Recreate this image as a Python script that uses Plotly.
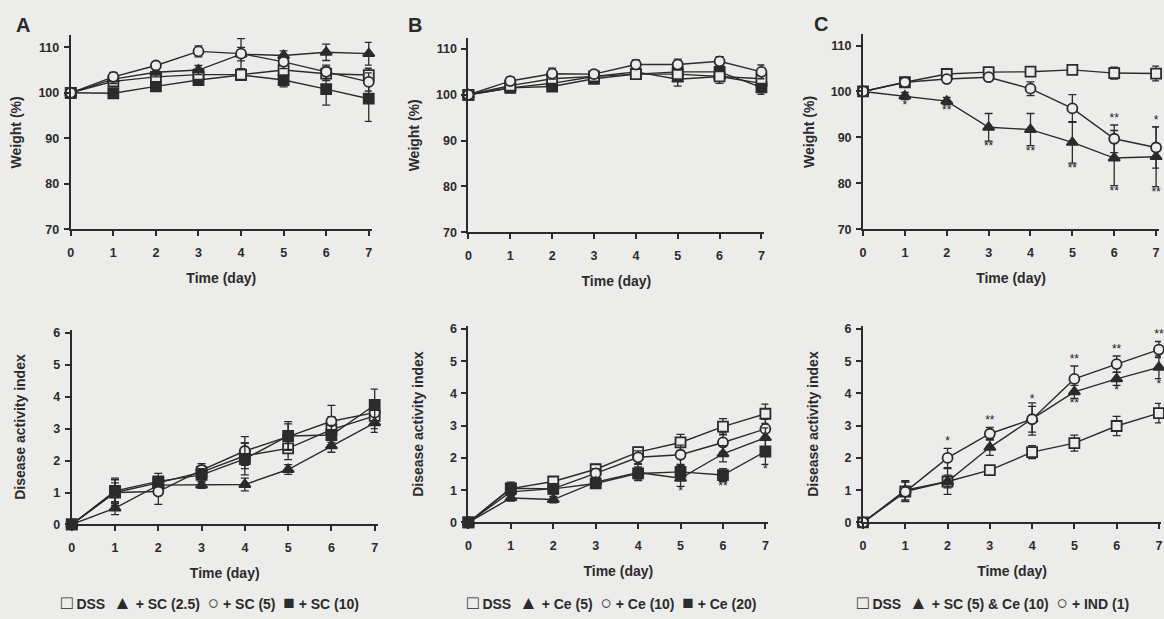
import plotly.graph_objects as go

# ---------------- data ----------------
days = [0, 1, 2, 3, 4, 5, 6, 7]
day_ticks = [0, 1, 2, 3, 4, 5, 6, 7]
weight_ticks = [70, 80, 90, 100, 110]
dai_ticks = [0, 1, 2, 3, 4, 5, 6]

# Panel A - weight
a_w_dss = [100, 102.5, 103.5, 104, 104, 105, 104.2, 103.9]
a_w_dss_err = [0, 1, 1, 1, 1, 1.2, 1.5, 1.5]
a_w_sc25 = [100, 103, 104.5, 105, 108.5, 108.2, 108.9, 108.6]
a_w_sc25_err = [0, 1, 1, 1, 1.5, 1, 1.8, 2.5]
a_w_sc5 = [100, 103.5, 106, 109.1, 108.6, 106.8, 104.6, 102.4]
a_w_sc5_err = [0, 1, 0.8, 1.2, 3.3, 1.5, 1.5, 2]
a_w_sc10 = [100, 99.9, 101.4, 102.8, 103.9, 102.8, 100.8, 98.7]
a_w_sc10_err = [0, 0.5, 1, 1, 1, 1.5, 3.5, 5]

# Panel B - weight
b_w_dss = [100, 102, 103.5, 104, 104.5, 104.5, 104, 103.5]
b_w_dss_err = [0, 1, 1, 0.8, 1, 1, 1, 1]
b_w_ce5 = [100, 101.5, 102.5, 104, 105, 103.4, 104, 102.5]
b_w_ce5_err = [0, 1, 1, 0.8, 1, 1.5, 1.5, 2]
b_w_ce10 = [100, 103, 104.6, 104.5, 106.6, 106.6, 107.3, 105]
b_w_ce10_err = [0, 0.8, 1.2, 0.8, 1, 1.2, 1, 1.5]
b_w_ce20 = [100, 101.5, 101.8, 103.5, 104.5, 105, 105, 101.6]
b_w_ce20_err = [0, 0.8, 1, 0.8, 1, 1.5, 1.5, 1.5]

# Panel C - weight
c_w_dss = [100, 102, 103.8, 104.2, 104.3, 104.7, 104, 103.9]
c_w_dss_err = [0, 0.8, 0.8, 0.8, 0.8, 1, 1.3, 1.6]
c_w_mix = [100, 99, 97.9, 92.2, 91.7, 88.9, 85.5, 85.8]
c_w_mix_err = [0, 0.8, 0.8, 3, 3.5, 4.5, 6, 6.5]
c_w_mix_sig = ["", "*", "**", "**", "**", "**", "**", "**"]
c_w_ind = [100, 102, 102.7, 103.1, 100.6, 96.3, 89.7, 87.8]
c_w_ind_err = [0, 0.6, 0.6, 0.6, 1.5, 3, 3, 4.5]
c_w_ind_sig = ["", "", "", "", "", "", "**", "*"]

# Panel A - DAI
a_d_dss = [0, 1.0, 1.3, 1.64, 2.15, 2.38, 2.97, 3.4]
a_d_dss_err = [0, 0.3, 0.3, 0.2, 0.4, 0.35, 0.4, 0.4]
a_d_sc25 = [0, 0.51, 1.23, 1.23, 1.25, 1.72, 2.46, 3.18]
a_d_sc25_err = [0, 0.2, 0.15, 0.1, 0.2, 0.15, 0.2, 0.3]
a_d_sc5 = [0, 1.0, 1.03, 1.7, 2.3, 2.75, 3.23, 3.5]
a_d_sc5_err = [0, 0.4, 0.4, 0.2, 0.45, 0.4, 0.5, 0.4]
a_d_sc10 = [0, 1.05, 1.35, 1.55, 2.05, 2.77, 2.8, 3.74]
a_d_sc10_err = [0, 0.4, 0.15, 0.2, 0.5, 0.45, 0.3, 0.5]

# Panel B - DAI
b_d_dss = [0, 1.05, 1.27, 1.65, 2.18, 2.48, 2.97, 3.37]
b_d_dss_err = [0, 0.2, 0.15, 0.15, 0.15, 0.25, 0.25, 0.3]
b_d_ce5 = [0, 0.76, 0.71, 1.25, 1.55, 1.37, 2.13, 2.63]
b_d_ce5_err = [0, 0.1, 0.1, 0.15, 0.25, 0.25, 0.25, 0.3]
b_d_ce5_sig = ["", "", "", "", "", "*", "", ""]
b_d_ce10 = [0, 0.95, 1.05, 1.52, 2.02, 2.1, 2.48, 2.9]
b_d_ce10_err = [0, 0.2, 0.15, 0.15, 0.2, 0.3, 0.3, 0.3]
b_d_ce20 = [0, 1.06, 1.04, 1.21, 1.52, 1.57, 1.47, 2.2]
b_d_ce20_err = [0, 0.15, 0.15, 0.1, 0.2, 0.2, 0.2, 0.4]
b_d_ce20_sig = ["", "", "", "", "", "", "**", "*"]

# Panel C - DAI
c_d_dss = [0, 0.96, 1.27, 1.62, 2.18, 2.46, 2.99, 3.39]
c_d_dss_err = [0, 0.3, 0.2, 0.1, 0.2, 0.25, 0.3, 0.3]
c_d_mix = [0, 1.0, 1.27, 2.33, 3.21, 4.05, 4.45, 4.81]
c_d_mix_err = [0, 0.3, 0.4, 0.25, 0.5, 0.2, 0.2, 0.35]
c_d_mix_sig = ["", "", "", "", "", "**", "*", "*"]
c_d_ind = [0, 0.95, 2.0, 2.75, 3.2, 4.45, 4.91, 5.36]
c_d_ind_err = [0, 0.3, 0.3, 0.2, 0.4, 0.4, 0.25, 0.25]
c_d_ind_sig = ["", "", "*", "**", "*", "**", "**", "**"]

legend_a = [("\u25a1", "DSS"), ("\u25b2", "+ SC (2.5)"), ("\u25cb", "+ SC (5)"), ("\u25a0", "+ SC (10)")]
legend_b = [("\u25a1", "DSS"), ("\u25b2", "+ Ce (5)"), ("\u25cb", "+ Ce (10)"), ("\u25a0", "+ Ce (20)")]
legend_c = [("\u25a1", "DSS"), ("\u25b2", "+ SC (5) & Ce (10)"), ("\u25cb", "+ IND (1)")]

# ---------------- styling ----------------
W, H = 1164, 619
BG = "#ececea"
INK = "#2b2b2b"
FONT = "Liberation Sans, Arial, sans-serif"

SYM = {
    "dss": dict(symbol="square", size=10, fill=False),
    "tri": dict(symbol="triangle-up", size=10, fill=True),
    "circ": dict(symbol="circle", size=10, fill=False),
    "sq": dict(symbol="square", size=10, fill=True),
}

fig = go.Figure()


def px_dom_x(x0, x1):
    return [x0 / W, x1 / W]


def px_dom_y(ytop, ybot):
    return [1 - ybot / H, 1 - ytop / H]


def add_series(idx, y, err, kind, sig=None, sig_side="below"):
    s = SYM[kind]
    xa = "x" if idx == 1 else f"x{idx}"
    ya = "y" if idx == 1 else f"y{idx}"
    marker = dict(symbol=s["symbol"], size=s["size"], color=INK if s["fill"] else BG,
                  line=dict(color=INK, width=1.8))
    fig.add_trace(go.Scatter(
        x=days, y=y, mode="lines+markers", xaxis=xa, yaxis=ya,
        line=dict(color=INK, width=1.4), marker=marker,
        error_y=dict(type="data", array=err, color=INK, thickness=1.3, width=4, visible=True),
        showlegend=False, hoverinfo="skip", cliponaxis=False))
    if sig:
        if sig_side == "below":
            ys = [v - e for v, e in zip(y, err)]
            pos = "bottom center"
        else:
            ys = [v + e for v, e in zip(y, err)]
            pos = "top center"
        fig.add_trace(go.Scatter(
            x=days, y=ys, mode="text", text=sig, textposition=pos, xaxis=xa, yaxis=ya,
            textfont=dict(family=FONT, size=12, color="#202020"),
            showlegend=False, hoverinfo="skip", cliponaxis=False))


geom = {
    1: dict(x=(68, 370), y=(33, 230), xr=[0, 7.07], yr=[70, 112.6], yt=weight_ticks,
            title="Weight (%)", st=14),
    2: dict(x=(467, 764), y=(36, 233), xr=[0, 7.07], yr=[70, 112.3], yt=weight_ticks,
            title="Weight (%)", st=13),
    3: dict(x=(863, 1160), y=(32, 230), xr=[0, 7.07], yr=[70, 112.4], yt=weight_ticks,
            title="Weight (%)", st=13),
    4: dict(x=(69, 376), y=(332, 530), xr=[0, 7.07], yr=[0, 6.1], yt=dai_ticks,
            title="Disease activity index", st=24),
    5: dict(x=(467, 768), y=(328, 528), xr=[0, 7.07], yr=[0, 6.1], yt=dai_ticks,
            title="Disease activity index", st=23),
    6: dict(x=(863, 1162), y=(328, 528), xr=[0, 7.05], yr=[0, 6.1], yt=dai_ticks,
            title="Disease activity index", st=23),
}

layout_axes = {}
for i, g in geom.items():
    xk = "xaxis" if i == 1 else f"xaxis{i}"
    yk = "yaxis" if i == 1 else f"yaxis{i}"
    ya_anchor = "y" if i == 1 else f"y{i}"
    xa_anchor = "x" if i == 1 else f"x{i}"
    layout_axes[xk] = dict(
        domain=px_dom_x(*g["x"]), range=g["xr"], anchor=ya_anchor,
        tickvals=day_ticks, ticktext=[f"<b>{t}</b>" for t in day_ticks],
        ticks="outside", ticklen=5, tickwidth=1.5, tickcolor=INK, ticklabelstandoff=6,
        showline=True, linecolor=INK, linewidth=2, showgrid=False, zeroline=False,
        tickfont=dict(family=FONT, size=12.5, color=INK),
        title=dict(text="<b>Time (day)</b>", font=dict(family=FONT, size=14, color=INK), standoff=14),
    )
    layout_axes[yk] = dict(
        domain=px_dom_y(*g["y"]), range=g["yr"], anchor=xa_anchor,
        tickvals=g["yt"], ticktext=[f"<b>{t}</b>" for t in g["yt"]],
        ticks="outside", ticklen=5, tickwidth=1.5, tickcolor=INK, ticklabelstandoff=2,
        showline=True, linecolor=INK, linewidth=2, showgrid=False, zeroline=False,
        tickfont=dict(family=FONT, size=12.5, color=INK),
        title=dict(text=f"<b>{g['title']}</b>", font=dict(family=FONT, size=14, color=INK),
                   standoff=g["st"]),
    )

# Panel A weight
add_series(1, a_w_sc10, a_w_sc10_err, "sq")
add_series(1, a_w_dss, a_w_dss_err, "dss")
add_series(1, a_w_sc25, a_w_sc25_err, "tri")
add_series(1, a_w_sc5, a_w_sc5_err, "circ")
# Panel B weight
add_series(2, b_w_ce20, b_w_ce20_err, "sq")
add_series(2, b_w_ce5, b_w_ce5_err, "tri")
add_series(2, b_w_dss, b_w_dss_err, "dss")
add_series(2, b_w_ce10, b_w_ce10_err, "circ")
# Panel C weight
add_series(3, c_w_dss, c_w_dss_err, "dss")
add_series(3, c_w_mix, c_w_mix_err, "tri", c_w_mix_sig, "below")
add_series(3, c_w_ind, c_w_ind_err, "circ", c_w_ind_sig, "above")
# Panel A DAI
add_series(4, a_d_dss, a_d_dss_err, "dss")
add_series(4, a_d_sc25, a_d_sc25_err, "tri")
add_series(4, a_d_sc5, a_d_sc5_err, "circ")
add_series(4, a_d_sc10, a_d_sc10_err, "sq")
# Panel B DAI
add_series(5, b_d_dss, b_d_dss_err, "dss")
add_series(5, b_d_ce10, b_d_ce10_err, "circ")
add_series(5, b_d_ce5, b_d_ce5_err, "tri", b_d_ce5_sig, "below")
add_series(5, b_d_ce20, b_d_ce20_err, "sq", b_d_ce20_sig, "below")
# Panel C DAI
add_series(6, c_d_dss, c_d_dss_err, "dss")
add_series(6, c_d_mix, c_d_mix_err, "tri", c_d_mix_sig, "below")
add_series(6, c_d_ind, c_d_ind_err, "circ", c_d_ind_sig, "above")


def paper_text(text, px, py, size):
    return dict(text=f"<b>{text}</b>", x=px / W, y=1 - py / H,
                xref="paper", yref="paper", xanchor="left", yanchor="middle", showarrow=False,
                font=dict(family=FONT, size=size, color=INK))


def legend_text(items):
    parts = []
    for sym, lab in items:
        parts.append(f"<span style='font-size:19px'>{sym}</span> <b>{lab}</b>")
    return "  ".join(parts)


def legend_ann(items, px, py):
    return dict(text=legend_text(items), x=px / W, y=1 - py / H, xref="paper", yref="paper",
                xanchor="left", yanchor="middle", showarrow=False,
                font=dict(family=FONT, size=14, color=INK))


annotations = [
    paper_text("A", 11, 22, 20),
    paper_text("B", 404, 22, 20),
    paper_text("C", 812, 21, 20),
    legend_ann(legend_a, 56, 609),
    legend_ann(legend_b, 464, 609),
    legend_ann(legend_c, 855, 609),
]

fig.update_layout(
    width=W, height=H, margin=dict(l=0, r=0, t=0, b=0),
    paper_bgcolor=BG, plot_bgcolor=BG, showlegend=False,
    annotations=annotations, **layout_axes,
)

fig.write_html("out.html", config={"displayModeBar": False},
               post_script="document.body.style.margin='0';document.body.style.overflow='hidden';")
